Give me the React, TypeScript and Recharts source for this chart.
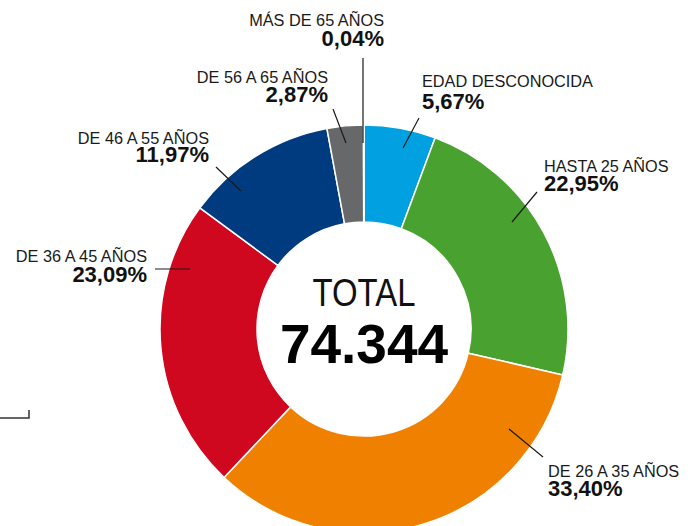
import React from 'react';
import { PieChart, Pie, Cell } from 'recharts';

const categories = [
  'EDAD DESCONOCIDA',
  'HASTA 25 AÑOS',
  'DE 26 A 35 AÑOS',
  'DE 36 A 45 AÑOS',
  'DE 46 A 55 AÑOS',
  'DE 56 A 65 AÑOS',
  'MÁS DE 65 AÑOS',
];
const shares = [5.67, 22.95, 33.4, 23.09, 11.97, 2.87, 0.04];
const totalLabel = 'TOTAL';
const totalValue = '74.344';

const colors = ['#00A0E1', '#49A22F', '#F08100', '#CF0820', '#003B80', '#67686A', '#B0282E'];

// label placement relative to the pie centre: leader line [x1,y1,x2,y2], text x, anchor, name baseline, pct baseline
const labelLayout = [
  { line: [39, -181, 55, -211], tx: 58, anchor: 'start', ny: -242, py: -220 },
  { line: [148, -107, 173, -137], tx: 180, anchor: 'start', ny: -157, py: -138 },
  { line: [145, 100, 179, 128], tx: 184, anchor: 'start', ny: 148, py: 167 },
  { line: [-209, -60, -174, -60], tx: -217, anchor: 'end', ny: -67, py: -47 },
  { line: [-148, -162, -123, -138], tx: -155, anchor: 'end', ny: -185, py: -167 },
  { line: [-31, -220, -18, -186], tx: -36, anchor: 'end', ny: -246, py: -227 },
  { line: [-1, -271, -1, -186], tx: 20, anchor: 'end', ny: -303, py: -283 },
];

const data = categories.map((name, i) => ({ name, value: shares[i] }));

const FONT = '"Liberation Sans", Arial, sans-serif';

const renderLabel = (props: any) => {
  const { cx, cy, index } = props;
  const l = labelLayout[index];
  const pct = shares[index].toFixed(2).replace('.', ',') + '%';
  return (
    <g key={`lbl-${index}`}>
      <line
        x1={cx + l.line[0]}
        y1={cy + l.line[1]}
        x2={cx + l.line[2]}
        y2={cy + l.line[3]}
        stroke="#1a1a1a"
        strokeWidth={1.2}
      />
      <text x={cx + l.tx} y={cy + l.ny} textAnchor={l.anchor} fontFamily={FONT} fontSize={16.3} fill="#1a1a1a">
        {categories[index]}
      </text>
      <text x={cx + l.tx} y={cy + l.py} textAnchor={l.anchor} fontFamily={FONT} fontSize={22} fontWeight="bold" fill="#111">
        {pct}
      </text>
    </g>
  );
};

const App = () => {
  const cx = 364;
  const cy = 329;
  return (
    <div style={{ position: 'absolute', left: 0, top: 0, width: 697, height: 526, overflow: 'hidden', background: '#fff' }}>
      <PieChart width={697} height={526} margin={{ top: 0, right: 0, bottom: 0, left: 0 }}>
        <Pie
          data={data}
          dataKey="value"
          nameKey="name"
          cx={cx}
          cy={cy}
          innerRadius={107}
          outerRadius={204}
          startAngle={90}
          endAngle={-270}
          stroke="#fff"
          strokeWidth={1.5}
          label={renderLabel}
          labelLine={false}
          isAnimationActive={false}
        >
          {data.map((entry, i) => (
            <Cell key={`cell-${i}`} fill={colors[i]} />
          ))}
        </Pie>
        <text
          x={cx}
          y={306}
          textAnchor="middle"
          fontFamily={FONT}
          fontSize={39}
          textLength={103}
          lengthAdjust="spacingAndGlyphs"
          fill="#111"
        >
          {totalLabel}
        </text>
        <text x={cx} y={363} textAnchor="middle" fontFamily={FONT} fontSize={55} fontWeight="bold" fill="#000">
          {totalValue}
        </text>
      </PieChart>
      <svg width={40} height={30} style={{ position: 'absolute', left: 0, top: 405 }}>
        <path d="M0 13 H29 V5" fill="none" stroke="#333" strokeWidth={1.5} />
      </svg>
    </div>
  );
};

export default App;
